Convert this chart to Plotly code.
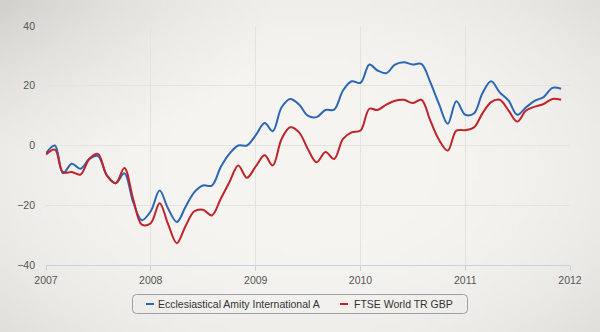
import base64
import struct
import zlib

import numpy as np
import pandas as pd
import plotly.graph_objects as go

# Monthly cumulative performance (%) from January 2007 to December 2011
months = pd.date_range("2007-01-01", periods=60, freq="MS")

amity = [
    -2.6, 0.0, -9.3, -6.1, -7.8, -4.5, -3.5, -10.0, -12.6, -9.3, -19.0, -25.0,
    -22.0, -15.1, -21.0, -25.6, -20.6, -15.6, -13.4, -13.4, -7.2, -2.8, 0.0, 0.0,
    3.5, 7.5, 4.8, 12.8, 15.6, 13.7, 10.0, 9.5, 11.9, 12.0, 18.4, 21.5,
    21.0, 27.1, 25.1, 24.2, 27.1, 27.9, 27.1, 27.3, 21.2, 14.0, 7.3, 14.8,
    10.3, 10.8, 17.3, 21.5, 17.8, 15.0, 10.3, 12.8, 15.0, 16.2, 19.3, 19.0,
]

ftse = [
    -3.0, -1.4, -8.9, -8.9, -9.7, -4.5, -2.8, -10.0, -12.6, -7.5, -18.0, -26.5,
    -26.0, -19.3, -26.2, -32.7, -27.0, -22.0, -21.5, -23.4, -17.8, -12.3, -6.7, -10.8,
    -7.0, -3.3, -6.7, 2.2, 6.1, 4.4, -1.1, -5.6, -2.2, -4.5, 2.2, 4.4,
    5.0, 12.3, 11.9, 13.7, 15.0, 15.3, 14.2, 15.3, 8.4, 2.0, -1.7, 5.0,
    5.1, 6.1, 10.6, 14.5, 15.3, 11.7, 8.0, 11.7, 13.0, 13.9, 15.6, 15.3,
]

series_names = ["Ecclesiastical Amity International A", "FTSE World TR GBP"]
series_colors = ["#2a67b4", "#c0232a"]

year_ticks = pd.date_range("2007-01-01", "2012-01-01", freq="YS")
y_ticks = [-40, -20, 0, 20, 40]

W, H = 600, 332
M = dict(l=46, r=30, t=26, b=67)
plot_w = W - M["l"] - M["r"]
plot_h = H - M["t"] - M["b"]
FONT = "Liberation Sans, Arial, sans-serif"


def px_x(px):
    return (px - M["l"]) / plot_w


def px_y(py):
    return (H - M["b"] - py) / plot_h


def paper_png(w=120, h=66):
    """Soft paper-coloured backdrop that darkens slightly towards the edges."""
    yy, xx = np.mgrid[0:h, 0:w]
    u = (xx + 0.5) / w * 2 - 1
    v = (yy + 0.5) / h * 2 - 1
    r2 = (u ** 2) * 0.9 + (v ** 2) * 0.7
    tl = np.clip(1 - np.hypot((xx / w), (yy / h)) * 2.2, 0, 1)
    shade = 1 - 0.045 * r2 ** 1.5 - 0.06 * tl
    base = np.array([246, 245, 241], dtype=float)
    img = np.clip(base[None, None, :] * shade[..., None], 0, 255).astype(np.uint8)
    raw = b"".join(b"\x00" + img[i].tobytes() for i in range(h))

    def chunk(tag, data):
        c = struct.pack(">I", len(data)) + tag + data
        return c + struct.pack(">I", zlib.crc32(tag + data) & 0xFFFFFFFF)

    png = b"\x89PNG\r\n\x1a\n"
    png += chunk(b"IHDR", struct.pack(">IIBBBBB", w, h, 8, 2, 0, 0, 0))
    png += chunk(b"IDAT", zlib.compress(raw, 9))
    png += chunk(b"IEND", b"")
    return "data:image/png;base64," + base64.b64encode(png).decode()


def rounded_box(x0, y0, x1, y1, r):
    """SVG path (paper coords) of a rectangle with rounded corners, given in pixels."""
    X0, X1 = px_x(x0), px_x(x1)
    Y0, Y1 = px_y(y0), px_y(y1)
    rx, ry = r / plot_w, r / plot_h
    return (
        f"M {X0 + rx},{Y0} L {X1 - rx},{Y0} Q {X1},{Y0} {X1},{Y0 - ry} "
        f"L {X1},{Y1 + ry} Q {X1},{Y1} {X1 - rx},{Y1} "
        f"L {X0 + rx},{Y1} Q {X0},{Y1} {X0},{Y1 + ry} "
        f"L {X0},{Y0 - ry} Q {X0},{Y0} {X0 + rx},{Y0} Z"
    )


fig = go.Figure()
for name, values, color in zip(series_names, [amity, ftse], series_colors):
    fig.add_trace(go.Scatter(
        x=months, y=values, name=name, mode="lines",
        line=dict(color=color, width=2, shape="spline", smoothing=1),
    ))

fig.add_layout_image(dict(
    source=paper_png(), xref="paper", yref="paper",
    x=-M["l"] / plot_w, y=1 + M["t"] / plot_h,
    sizex=W / plot_w, sizey=H / plot_h,
    xanchor="left", yanchor="top", sizing="stretch", layer="below",
))

# Legend: framed box under the axis with a short line swatch per series
fig.add_shape(type="path", xref="paper", yref="paper",
              path=rounded_box(132.5, 294.5, 467.5, 313.5, 4),
              line=dict(color="#a0a0a0", width=1), fillcolor="rgba(0,0,0,0)")
legend_items = [(146, 156), (340, 352)]
for (sw_x, tx_x), name, color in zip(legend_items, series_names, series_colors):
    fig.add_shape(type="line", xref="paper", yref="paper",
                  x0=px_x(sw_x), x1=px_x(sw_x + 8), y0=px_y(304), y1=px_y(304),
                  line=dict(color=color, width=2))
    fig.add_annotation(x=px_x(tx_x), y=px_y(304), xref="paper", yref="paper",
                       text=name, showarrow=False, xanchor="left", yanchor="middle",
                       font=dict(family=FONT, size=10.5, color="#333333"))

fig.update_layout(
    width=W, height=H,
    margin=dict(**M, autoexpand=False),
    paper_bgcolor="#f1f0eb",
    plot_bgcolor="rgba(0,0,0,0)",
    font=dict(family=FONT, size=10.5, color="#555555"),
    showlegend=False,
    xaxis=dict(
        type="date", range=[year_ticks[0], year_ticks[-1]],
        tickvals=list(year_ticks), tickformat="%Y",
        showgrid=True, gridcolor="#e3e3df", gridwidth=1,
        showline=True, linecolor="#c3d2e4", linewidth=1,
        ticks="outside", ticklen=5, tickcolor="#c3d2e4",
        zeroline=False, fixedrange=True,
    ),
    yaxis=dict(
        range=[-40, 40], tickvals=y_ticks,
        showgrid=True, gridcolor="#e3e3df", gridwidth=1,
        zeroline=False, showline=False, ticks="", ticklabelstandoff=10,
        fixedrange=True,
    ),
)

fig.write_html("out.html")
